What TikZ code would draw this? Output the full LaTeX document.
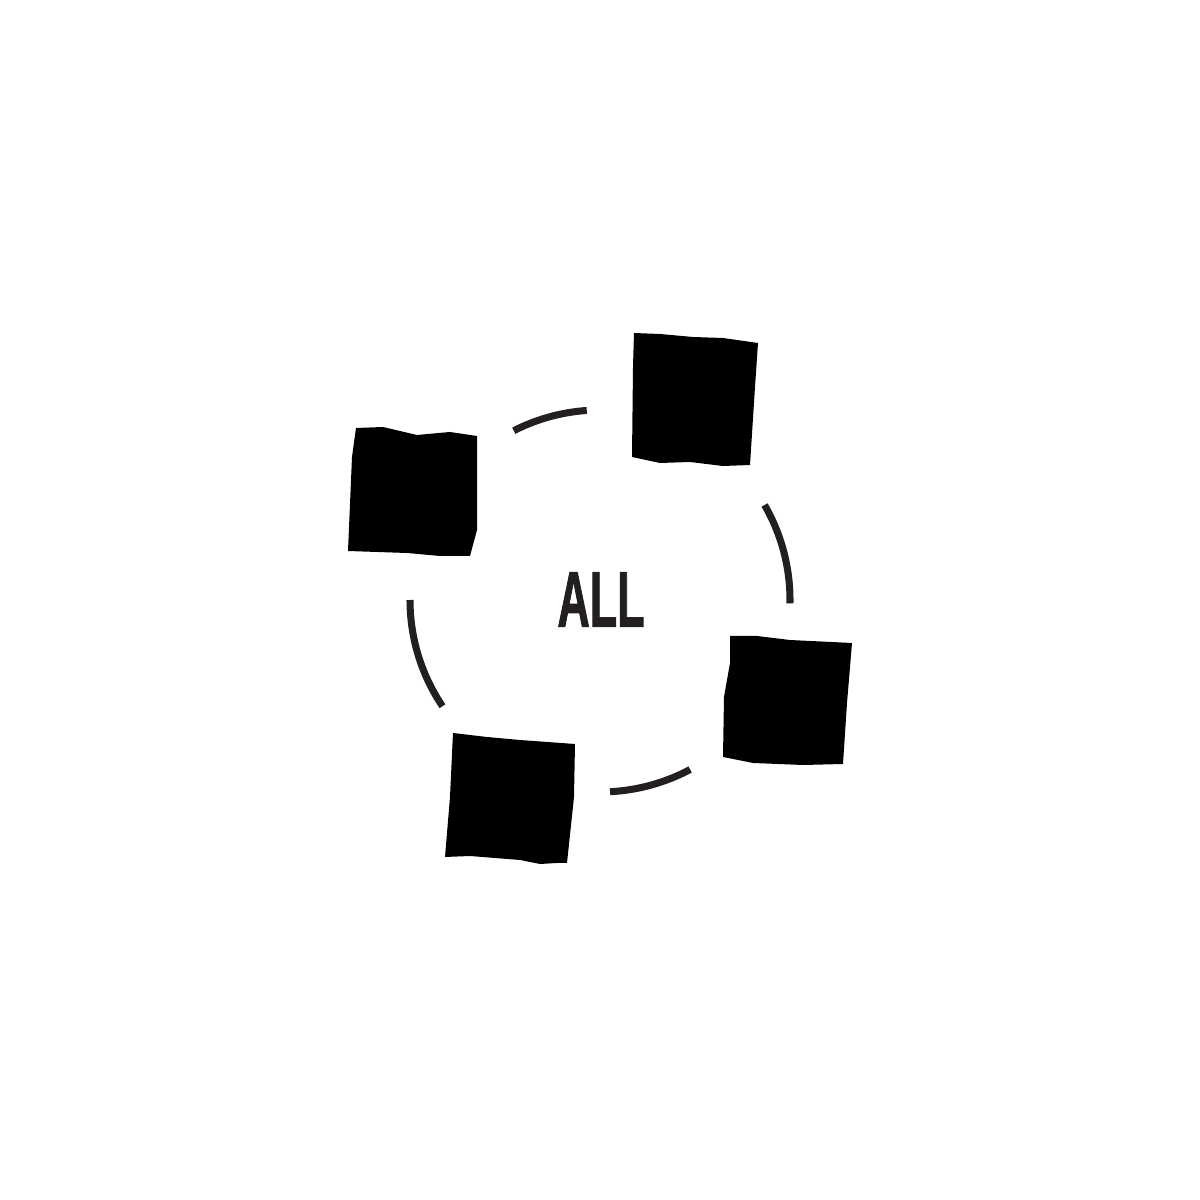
\documentclass[tikz,border=0pt]{standalone}
\usepackage{fontspec}
\setmainfont{Liberation Sans}
\newfontfamily\tagfont{Liberation Sans Bold}[FakeBold=1.6]
\definecolor{ringgray}{HTML}{231F20}
\tikzset{
  blob/.style={fill=black},
  ringarc/.style={draw=ringgray, line width=2pt},
  tag/.style={text=ringgray, font=\tagfont\bfseries\fontsize{22.4}{24}\selectfont, inner sep=0pt}
}
\begin{document}
\begin{tikzpicture}
        \useasboundingbox (0,0) rectangle (12,12);

        % squares
        \fill[blob] (3.56,7.72) -- (3.83,7.73) -- (4.17,7.65) -- (4.50,7.68) -- (4.77,7.64) -- (4.77,6.70) -- (4.70,6.44) -- (4.40,6.44) -- (4.07,6.47) -- (3.48,6.49) -- (3.52,7.43) -- cycle;
        \fill[blob] (6.34,8.67) -- (6.60,8.66) -- (6.93,8.63) -- (7.23,8.62) -- (7.58,8.57) -- (7.55,8.13) -- (7.50,7.35) -- (7.23,7.34) -- (6.90,7.38) -- (6.60,7.37) -- (6.32,7.43) -- (6.33,8.33) -- cycle;
        \fill[blob] (7.30,5.64) -- (7.57,5.64) -- (7.90,5.60) -- (8.52,5.57) -- (8.47,4.97) -- (8.43,4.36) -- (8.03,4.35) -- (7.53,4.37) -- (7.23,4.43) -- (7.24,5.03) -- (7.30,5.37) -- cycle;
        \fill[blob] (4.53,4.67) -- (4.87,4.63) -- (5.20,4.60) -- (5.75,4.56) -- (5.74,4.03) -- (5.67,3.37) -- (5.57,3.37) -- (5.40,3.36) -- (5.20,3.40) -- (4.70,3.44) -- (4.45,3.43) -- (4.50,4.03) -- cycle;

        % arcs between them
        \coordinate (c) at (6,6);
        \draw[ringarc] (c) ++(94:1.9) arc (94:117:1.9);
        \draw[ringarc] (c) ++(-1:1.9) arc (-1:30:1.9);
        \draw[ringarc] (c) ++(-87:1.92) arc (-87:-62:1.92);
        \draw[ringarc] (c) ++(180:1.9) arc (180:214:1.9);

        \node[tag] (all) at (6.01,6.005) {\scalebox{0.57}[1]{ALL}};

    \end{tikzpicture}
\end{document}
